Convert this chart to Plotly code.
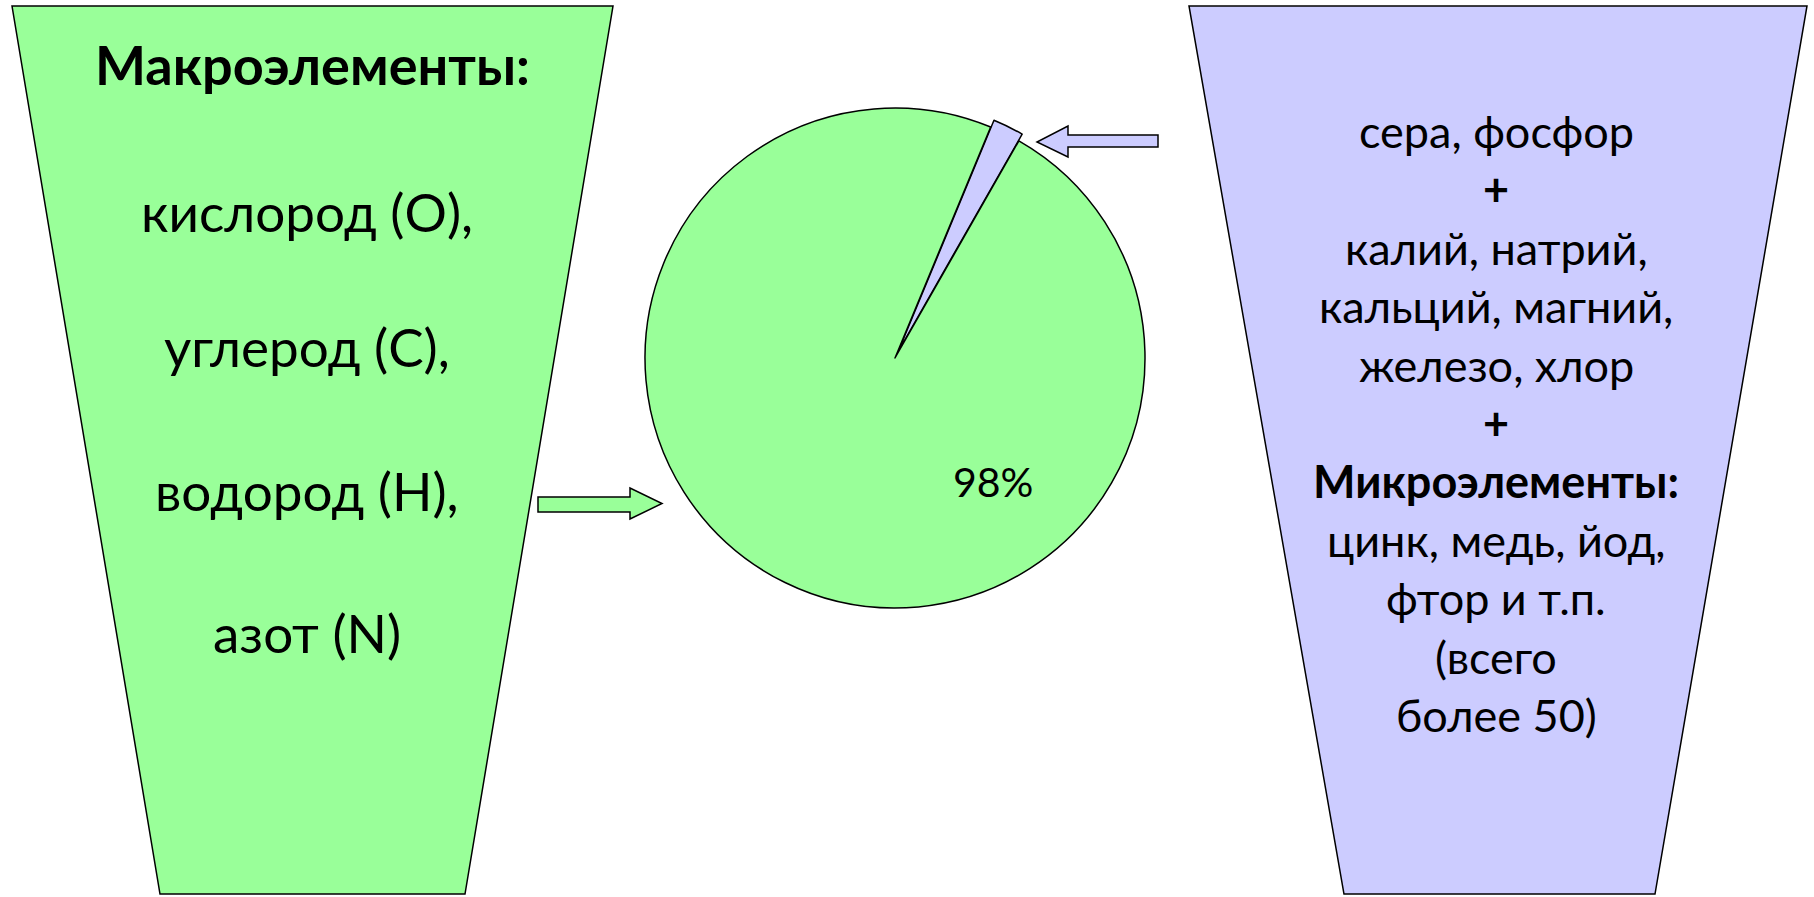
import plotly.graph_objects as go

W, H = 1814, 897

# ---- data ----
slice_labels = ["Остальные элементы", "Макроэлементы"]
slice_values = [2, 98]
slice_colors = ["#CCCCFF", "#99FF99"]

left_lines = ["Макроэлементы:", "кислород (O),", "углерод (C),", "водород (H),", "азот (N)"]
left_bold = [True, False, False, False, False]

right_lines = ["сера, фосфор", "+", "калий, натрий,", "кальций, магний,", "железо, хлор", "+",
               "Микроэлементы:", "цинк, медь, йод,", "фтор и т.п.", "(всего", "более 50)"]
right_bold = [False, True, False, False, False, True, True, False, False, False, False]

# ---- layout helpers (pixel -> paper) ----
def px(x):
    return x / W

def py(y):
    return 1 - y / H

def path(points):
    return "M " + " L ".join(f"{px(x):.5f},{py(y):.5f}" for x, y in points) + " Z"

FONT = "Lato, 'Open Sans', sans-serif"

fig = go.Figure()

pull = 0.03
cx, cy, r = 895, 358, 250
half = r * (1 + pull)
fig.add_trace(go.Pie(
    labels=slice_labels, values=slice_values, sort=False, direction="clockwise",
    rotation=22.5, pull=[pull, 0], textinfo="none", showlegend=False,
    marker=dict(colors=slice_colors, line=dict(color="black", width=1.5)),
    domain=dict(x=[px(cx - half), px(cx + half)], y=[py(cy + half), py(cy - half)]),
))

shapes = []
# left trapezoid (green)
shapes.append(dict(type="path", xref="paper", yref="paper",
                   path=path([(12, 6), (613, 6), (465, 894), (160, 894)]),
                   fillcolor="#99FF99", line=dict(color="black", width=1.5), layer="below"))
# right trapezoid (lavender)
shapes.append(dict(type="path", xref="paper", yref="paper",
                   path=path([(1189, 6), (1807, 6), (1655, 894), (1344, 894)]),
                   fillcolor="#CCCCFF", line=dict(color="black", width=1.5), layer="below"))
# green arrow -> pie
shapes.append(dict(type="path", xref="paper", yref="paper",
                   path=path([(538, 497), (630, 497), (630, 488), (662, 503.5),
                              (630, 519), (630, 512), (538, 512)]),
                   fillcolor="#99FF99", line=dict(color="black", width=1.5)))
# lavender arrow <- right box
shapes.append(dict(type="path", xref="paper", yref="paper",
                   path=path([(1158, 135), (1068, 135), (1068, 126), (1037, 142),
                              (1068, 157), (1068, 147), (1158, 147)]),
                   fillcolor="#CCCCFF", line=dict(color="black", width=1.5)))

annotations = []
left_y = [65, 211, 346, 490, 632]
for t, b, y in zip(left_lines, left_bold, left_y):
    annotations.append(dict(text=f"<b>{t}</b>" if b else t, x=px(312 if b else 307), y=py(y),
                            xref="paper", yref="paper", showarrow=False,
                            xanchor="center", yanchor="middle",
                            font=dict(family=FONT, size=54 if b else 53, color="black")))

right_y0, right_dy = 131, 58.4
for i, (t, b) in enumerate(zip(right_lines, right_bold)):
    annotations.append(dict(text=f"<b>{t}</b>" if b else t, x=px(1496),
                            y=py(right_y0 + i * right_dy),
                            xref="paper", yref="paper", showarrow=False,
                            xanchor="center", yanchor="middle",
                            font=dict(family=FONT, size=45, color="black")))

pct = round(100 * slice_values[1] / sum(slice_values))
annotations.append(dict(text=f"{pct}%", x=px(993), y=py(481), xref="paper", yref="paper",
                        showarrow=False, xanchor="center", yanchor="middle",
                        font=dict(family=FONT, size=41, color="black")))

fig.update_layout(width=W, height=H, margin=dict(l=0, r=0, t=0, b=0),
                  paper_bgcolor="white", plot_bgcolor="white",
                  shapes=shapes, annotations=annotations)

fig.write_html("out.html", config={"displayModeBar": False},
               post_script="document.body.style.margin='0';document.body.style.overflow='hidden';")
